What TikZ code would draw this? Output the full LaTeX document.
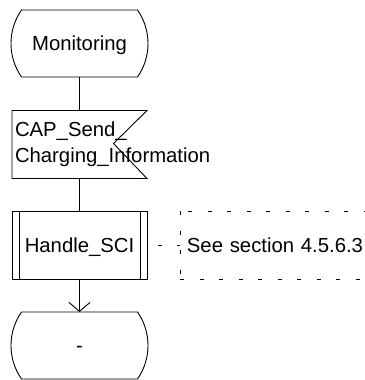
\documentclass[tikz,border=0pt]{standalone}
\usepackage{fontspec}
\setmainfont{Liberation Sans}
\usetikzlibrary{arrows.meta,calc}
\begin{document}
\begin{tikzpicture}[x=1pt,y=-1pt,line width=0.9pt,
  font=\fontsize{20.3}{26}\selectfont,
  blk/.style={minimum width=135pt,minimum height=68pt,inner sep=0pt,outer sep=0pt},
  onel/.style={text height=14.5pt,text depth=0pt},
  statebox/.style={minimum width=137pt,minimum height=67pt,inner sep=0pt,outer sep=0pt,onel},
  notedash/.style={dash pattern=on 4pt off 15.5pt},
  linkdash/.style={dash pattern=on 3.5pt off 15pt},
  openhead/.style={-{Straight Barb[length=9pt,width=21pt]}}
]
\useasboundingbox (0,0) rectangle (364,380);

% SDL state symbol
\newcommand\sdlstate[1]{%
  \draw ($(#1.north west)+(10.5,0)$) -- ($(#1.north east)+(-10.5,0)$)
    .. controls +(14,20) and +(14,-20) .. ($(#1.south east)+(-10.5,0)$)
    -- ($(#1.south west)+(10.5,0)$)
    .. controls +(-14,-20) and +(-14,20) .. cycle;}

% nodes
\node[statebox] (mon) at (79.5,43.5) {Monitoring};
\node[blk,align=left,text width=129pt,inner xsep=3pt] (sig) at (79.5,144.5)
  {CAP\_Send\_\\Charging\_Information};
\node[blk,draw,onel] (hsci) at (79.5,245) {Handle\_SCI};
\node[statebox] (endst) at (79.5,345.5) {-};
\node[inner ysep=0pt,inner xsep=6.5pt,minimum height=67pt,
      text width=190pt,align=left,onel,anchor=west] (cmt) at (180,245) {See section 4.5.6.3};

% shapes
\sdlstate{mon}
\sdlstate{endst}
\draw (sig.north west) -- (sig.north east) -- ($(sig.east)+(-33.5,-1)$)
  -- (sig.south east) -- (sig.south west) -- cycle;
\draw ($(hsci.north west)+(7,0)$) -- ($(hsci.south west)+(7,0)$);
\draw ($(hsci.north east)+(-7,0)$) -- ($(hsci.south east)+(-7,0)$);
% open comment bracket
\draw[notedash] (cmt.north west) -- (cmt.south west);
\draw[notedash,dash phase=11.5pt] (cmt.north west) -- (cmt.north east);
\draw[notedash] (cmt.south west) -- (cmt.south east);

% connectors
\draw (mon.south) -- (sig.north);
\draw (sig.south) -- (hsci.north);
\draw[openhead] (hsci.south) -- (endst.north);
\draw[linkdash] (cmt.west) -- (hsci.east);
\end{tikzpicture}
\end{document}
